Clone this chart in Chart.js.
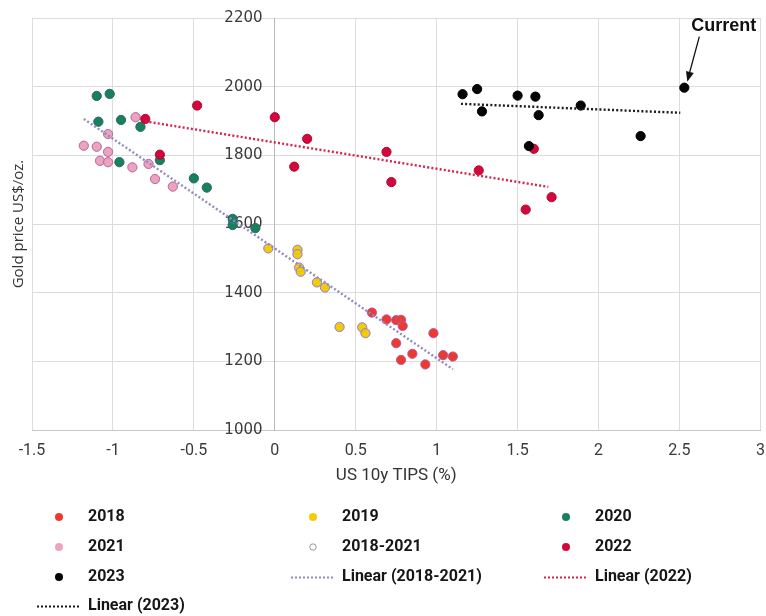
<!DOCTYPE html>
<html>
<head>
<meta charset="utf-8">
<script src="https://cdn.jsdelivr.net/npm/chart.js@4.4.1/dist/chart.umd.min.js"></script>
<style>
  html, body { margin: 0; padding: 0; background: #ffffff; }
  #wrap { width: 766px; height: 616px; }
</style>
</head>
<body>
<div id="wrap"><canvas id="chart" width="766" height="616"></canvas></div>
<script>
// Real 10-year TIPS yield (%) against gold price (US$/oz.), by year
const tips2018 = [0.60, 0.69, 0.75, 0.78, 0.79, 0.98, 0.75, 0.85, 0.78, 0.93, 1.04, 1.10];
const gold2018 = [1342, 1322, 1320, 1321, 1303, 1282, 1253, 1222, 1204, 1191, 1218, 1214];

const tips2019 = [-0.04, 0.14, 0.14, 0.15, 0.16, 0.26, 0.31, 0.40, 0.54, 0.56];
const gold2019 = [1529, 1525, 1512, 1473, 1461, 1430, 1415, 1300, 1299, 1282];

const tips2020 = [-1.10, -1.02, -1.09, -0.95, -0.83, -0.96, -0.71, -0.50, -0.42, -0.26, -0.26, -0.12];
const gold2020 = [1973, 1979, 1898, 1903, 1883, 1780, 1786, 1733, 1706, 1615, 1597, 1588];

const tips2021 = [-0.86, -1.03, -1.18, -1.10, -1.03, -1.08, -1.03, -0.88, -0.78, -0.74, -0.63];
const gold2021 = [1911, 1862, 1828, 1825, 1810, 1784, 1780, 1765, 1775, 1731, 1709];

const tips2022 = [-0.80, -0.71, -0.48, 0.00, 0.12, 0.20, 0.69, 0.72, 1.26, 1.55, 1.60, 1.71];
const gold2022 = [1906, 1802, 1945, 1911, 1767, 1848, 1810, 1722, 1756, 1642, 1819, 1678];

const tips2023 = [1.16, 1.25, 1.28, 1.50, 1.61, 1.63, 1.89, 1.57, 2.26, 2.53];
const gold2023 = [1978, 1993, 1928, 1974, 1971, 1917, 1945, 1827, 1856, 1997];

// Linear trend lines (end points)
const trend1821X = [-1.18, 1.10];
const trend1821Y = [1906, 1177];
const trend2022X = [-0.80, 1.69];
const trend2022Y = [1899, 1708];
const trend2023X = [1.15, 2.505];
const trend2023Y = [1950, 1924];

// Axis ticks
const xTickValues = [-1.5, -1, -0.5, 0, 0.5, 1, 1.5, 2, 2.5, 3];
const xTickLabels = ['-1.5', '-1', '-0.5', '0', '0.5', '1', '1.5', '2', '2.5', '3'];
const yTickValues = [1000, 1200, 1400, 1600, 1800, 2000, 2200];
const yTickLabels = ['1000', '1200', '1400', '1600', '1800', '2000', '2200'];

const currentLabel = 'Current';
const xTitle = 'US 10y TIPS (%)';
const yTitle = 'Gold price US$/oz.';

function pairs(xs, ys) {
  return xs.map((x, i) => ({ x: x, y: ys[i] }));
}

function pointSet(label, xs, ys, fill, stroke) {
  return {
    type: 'scatter',
    label: label,
    data: pairs(xs, ys),
    backgroundColor: fill,
    borderColor: stroke,
    borderWidth: 1,
    pointRadius: 4.6,
    pointHoverRadius: 4.6,
    kind: 'point'
  };
}

function trendSet(label, xs, ys, color) {
  return {
    type: 'line',
    label: label,
    data: pairs(xs, ys),
    borderColor: color,
    backgroundColor: color,
    borderWidth: 2.4,
    borderDash: [2, 2.2],
    pointRadius: 0,
    fill: false,
    tension: 0,
    kind: 'line'
  };
}

const combinedX = [].concat(tips2018, tips2019, tips2020, tips2021);
const combinedY = [].concat(gold2018, gold2019, gold2020, gold2021);

const datasets = [
  pointSet('2018', tips2018, gold2018, '#ee3a2c', 'rgba(190,70,150,0.85)'),
  pointSet('2019', tips2019, gold2019, '#f3cc06', '#9a80cf'),
  pointSet('2020', tips2020, gold2020, '#17805d', '#0f5f45'),
  pointSet('2021', tips2021, gold2021, '#eba3bf', '#c2668f'),
  Object.assign(pointSet('2018-2021', combinedX, combinedY, 'rgba(255,255,255,0)', 'rgba(150,130,215,0.25)'), { legendStroke: '#9a9a9a' }),
  pointSet('2022', tips2022, gold2022, '#d0083c', '#b5062f'),
  pointSet('2023', tips2023, gold2023, '#050505', '#000000'),
  trendSet('Linear (2018-2021)', trend1821X, trend1821Y, '#8e8cc4'),
  trendSet('Linear (2022)', trend2022X, trend2022Y, '#d5234d'),
  trendSet('Linear (2023)', trend2023X, trend2023Y, '#1a1a1a')
];
// later series sit on top of earlier ones
datasets.forEach((d, i) => { d.order = datasets.length - i; });

// Legend grid: three columns of text, rows below the axis title
const LEGEND_TEXT_X = [88, 342, 595];
const LEGEND_ROW_Y = [517, 547, 577, 606];

const gridLegend = {
  id: 'gridLegend',
  afterDraw(chart) {
    const ctx = chart.ctx;
    ctx.save();
    chart.data.datasets.forEach((ds, i) => {
      const tx = LEGEND_TEXT_X[i % 3];
      const ty = LEGEND_ROW_Y[Math.floor(i / 3)];
      if (ds.kind === 'line') {
        ctx.beginPath();
        ctx.strokeStyle = ds.borderColor;
        ctx.lineWidth = 2;
        ctx.setLineDash([2, 2]);
        ctx.moveTo(tx - 51, ty + 0.5);
        ctx.lineTo(tx - 8, ty + 0.5);
        ctx.stroke();
        ctx.setLineDash([]);
      } else if (ds.legendStroke) {
        ctx.beginPath();
        ctx.arc(tx - 29, ty, 3.2, 0, Math.PI * 2);
        ctx.fillStyle = '#ffffff';
        ctx.fill();
        ctx.lineWidth = 1;
        ctx.strokeStyle = ds.legendStroke;
        ctx.stroke();
      } else {
        ctx.beginPath();
        ctx.arc(tx - 29, ty, 4, 0, Math.PI * 2);
        ctx.fillStyle = ds.backgroundColor;
        ctx.fill();
      }
      ctx.fillStyle = '#161616';
      ctx.font = 'bold 16px Roboto, "Liberation Sans", sans-serif';
      ctx.textAlign = 'left';
      ctx.textBaseline = 'middle';
      ctx.fillText(ds.label, tx, ty);
    });
    ctx.restore();
  }
};

// Vertical axis title at the left edge and the "Current" call-out
const annotations = {
  id: 'annotations',
  afterDraw(chart) {
    const ctx = chart.ctx;
    const area = chart.chartArea;
    ctx.save();
    ctx.translate(19, (area.top + area.bottom) / 2);
    ctx.rotate(-Math.PI / 2);
    ctx.font = '15px "Open Sans", sans-serif';
    ctx.fillStyle = '#333333';
    ctx.textAlign = 'center';
    ctx.textBaseline = 'middle';
    ctx.fillText(yTitle, 0, 0);
    ctx.restore();

    // point with the highest TIPS yield in 2023
    let k = 0;
    tips2023.forEach((v, i) => { if (v > tips2023[k]) k = i; });
    const px = chart.scales.x.getPixelForValue(tips2023[k]);
    const py = chart.scales.y.getPixelForValue(gold2023[k]);

    ctx.save();
    ctx.strokeStyle = '#111111';
    ctx.fillStyle = '#111111';
    ctx.lineWidth = 1.3;
    const sx = px + 15, sy = py - 51;
    const ex = px + 3, ey = py - 6;
    ctx.beginPath();
    ctx.moveTo(sx, sy);
    ctx.lineTo(ex + 2, ey - 8);
    ctx.stroke();
    const ang = Math.atan2(ey - sy, ex - sx);
    ctx.beginPath();
    ctx.moveTo(ex, ey);
    ctx.lineTo(ex - 10 * Math.cos(ang) + 4 * Math.sin(ang), ey - 10 * Math.sin(ang) - 4 * Math.cos(ang));
    ctx.lineTo(ex - 10 * Math.cos(ang) - 4 * Math.sin(ang), ey - 10 * Math.sin(ang) + 4 * Math.cos(ang));
    ctx.closePath();
    ctx.fill();
    ctx.font = 'bold 18px "Liberation Sans", Arial, sans-serif';
    ctx.textAlign = 'left';
    ctx.textBaseline = 'middle';
    ctx.fillText(currentLabel, px + 7, py - 62);
    ctx.restore();
  }
};

// the vertical axis crosses at x = 0 and its labels sit just left of it;
// an en space plus a space keeps them clear of the axis line
const Y_LABEL_GAP = '\u2002 ';

new Chart(document.getElementById('chart'), {
  data: { datasets: datasets },
  options: {
    responsive: false,
    animation: false,
    events: [],
    layout: { padding: { left: 32, right: 4, top: 18, bottom: 130 } },
    plugins: {
      legend: { display: false },
      tooltip: { enabled: false }
    },
    scales: {
      x: {
        type: 'linear',
        position: 'bottom',
        min: -1.5,
        max: 3,
        afterBuildTicks: (s) => { s.ticks = xTickValues.map(v => ({ value: v })); },
        afterFit: (s) => { s.height = 56; s.paddingLeft = 0; s.paddingRight = 0; },
        grid: { color: '#dcdcdc', lineWidth: 1, drawTicks: false },
        border: { color: '#c8c8c8', width: 1 },
        ticks: {
          padding: 11,
          color: '#3a3a3a',
          font: { family: 'Roboto', size: 16 },
          callback: (v) => xTickLabels[xTickValues.indexOf(v)]
        },
        title: {
          display: true,
          text: xTitle,
          color: '#333333',
          font: { family: 'Roboto', size: 17 },
          padding: { top: 0, bottom: 0 }
        }
      },
      y: {
        type: 'linear',
        position: { x: 0 },
        min: 1000,
        max: 2200,
        afterBuildTicks: (s) => { s.ticks = yTickValues.map(v => ({ value: v })); },
        afterFit: (s) => { s.paddingTop = 0; s.paddingBottom = 0; },
        grid: { color: '#dcdcdc', lineWidth: 1, drawTicks: false },
        border: { color: '#b8b8b8', width: 1 },
        ticks: {
          padding: 14,
          color: '#3a3a3a',
          font: { family: 'DejaVu Sans', size: 15 },
          callback: (v) => yTickLabels[yTickValues.indexOf(v)] + Y_LABEL_GAP
        }
      }
    }
  },
  plugins: [gridLegend, annotations]
});
</script>
</body>
</html>
